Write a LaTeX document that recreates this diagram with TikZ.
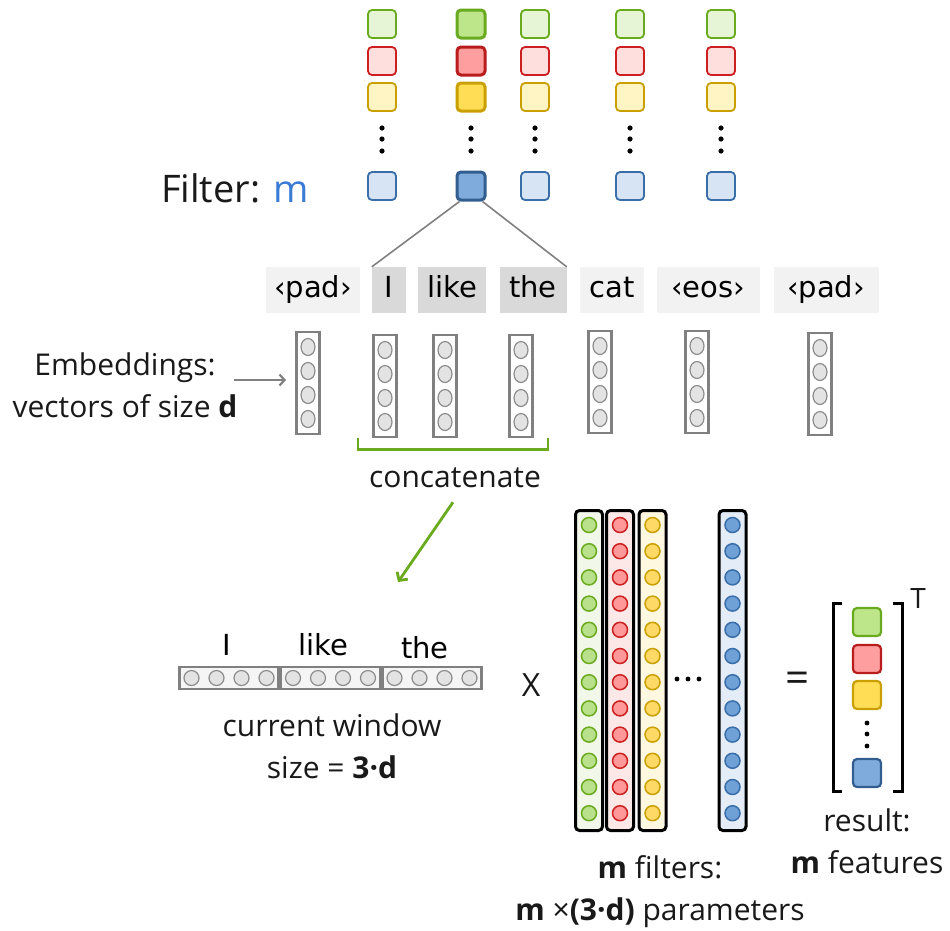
\documentclass[tikz,border=0pt]{standalone}
\usepackage{fontspec}
\setmainfont{Open Sans}
\newfontfamily\tokfont{DejaVu Sans}
\usetikzlibrary{arrows.meta,positioning}

\definecolor{grnline}{HTML}{6AAA1E}
\definecolor{grnfill}{HTML}{E6F5D6}
\definecolor{grnhi}{HTML}{BDE58A}
\definecolor{redline}{HTML}{CC1F1F}
\definecolor{redfill}{HTML}{FFDEDE}
\definecolor{redhi}{HTML}{FF9E9E}
\definecolor{yelline}{HTML}{C9A000}
\definecolor{yelfill}{HTML}{FFF4C4}
\definecolor{yelhi}{HTML}{FFDD55}
\definecolor{bluline}{HTML}{3A6EA8}
\definecolor{blufill}{HTML}{D6E4F4}
\definecolor{bluhi}{HTML}{7EAADC}
\definecolor{mblue}{HTML}{3A7BD5}
\definecolor{tokbg}{HTML}{F2F2F2}
\definecolor{tokhi}{HTML}{D9D9D9}
\definecolor{vecline}{HTML}{808080}
\definecolor{cellline}{HTML}{8C8C8C}
\definecolor{cellfill}{HTML}{E3E3E3}
\definecolor{winfill}{HTML}{F5F5F5}
\definecolor{fgbg}{HTML}{F1F8E9}
\definecolor{frbg}{HTML}{FDE8E8}
\definecolor{fybg}{HTML}{FFF8E1}
\definecolor{fbbg}{HTML}{E3ECF7}
\definecolor{grncell}{HTML}{B9E08A}
\definecolor{redcell}{HTML}{FF9999}
\definecolor{yelcell}{HTML}{FFD966}
\definecolor{blucell}{HTML}{6FA0D6}

\begin{document}
\begin{tikzpicture}[x=1pt, y=-1pt,
  txt/.style={font=\fontsize{30}{42}\selectfont, inner sep=0pt, align=center, text=black!90},
  tok/.style={font=\tokfont\fontsize{29}{30}\selectfont, text height=21pt, text depth=6pt,
    inner ysep=9.5pt, inner xsep=0pt, minimum height=46pt},
  tokplain/.style={font=\tokfont\fontsize{29}{30}\selectfont, inner sep=0pt},
  fsq/.style={draw, rounded corners=4pt, minimum size=28pt, inner sep=0pt, line width=1.8pt},
  fsqhi/.style={fsq, line width=3pt},
  vecbox/.style={draw=vecline, line width=2.8pt, minimum width=23pt, minimum height=102pt,
    inner sep=0pt, fill=white},
  winseg/.style={draw=vecline, line width=2.8pt, minimum width=99pt, minimum height=22pt,
    inner sep=0pt, fill=winfill},
  cell/.style={draw=cellline, fill=cellfill, line width=1.2pt},
  fcol/.style={draw=black, line width=3pt, rounded corners=4pt, minimum width=27pt,
    minimum height=320pt, inner sep=0pt},
  linkline/.style={vecline, line width=1.6pt},
  garrow/.style={-{Straight Barb[length=6pt,width=13pt]}, grnline, line width=2.8pt},
  embarrow/.style={-{Straight Barb[length=5pt,width=11pt]}, vecline, line width=2.2pt},
]
\useasboundingbox (0,0) rectangle (950,930);

% filters on top
\node[txt, font=\fontsize{38}{44}\selectfont] (filterlab) at (235,188) {Filter: \textcolor{mblue}{m}};
\foreach \x/\n in {382/1,535/3,630/4,721/5} {
  \node[fsq, draw=grnline, fill=grnfill] (g\n) at (\x,24) {};
  \node[fsq, draw=redline, fill=redfill] (r\n) at (\x,61) {};
  \node[fsq, draw=yelline, fill=yelfill] (y\n) at (\x,97) {};
  \node[fsq, draw=bluline, fill=blufill] (b\n) at (\x,186) {};
}
\node[fsqhi, draw=grnline, fill=grnhi] (g2) at (471,24) {};
\node[fsqhi, draw=redline!90!black, fill=redhi] (r2) at (471,61) {};
\node[fsqhi, draw=yelline, fill=yelhi] (y2) at (471,97) {};
\node[fsqhi, draw=bluline!85!black, fill=bluhi] (b2) at (471,186) {};
\foreach \x in {382,471,535,630,721}
  \foreach \y in {128,139,151}
    \fill (\x,\y) circle[radius=2.6pt];

% tokens
\foreach \x/\w/\t/\n/\c in {313/94/‹pad›/tpad1/tokbg, 389/34/I/tokI/tokhi, 452/68/like/tlike/tokhi,
    533/67/the/tthe/tokhi, 612/64/cat/tcat/tokbg, 708/103/‹eos›/teos/tokbg, 826/105/‹pad›/tpad2/tokbg}
  \node[tok, fill=\c, minimum width=\w pt] (\n) at (\x,290) {\t};

\draw[linkline] ([xshift=4pt]b2.south west) -- (tokI.north west);
\draw[linkline] ([xshift=-4pt]b2.south east) -- (tthe.north east);

% embeddings
\foreach \x/\y [count=\i] in {308/383, 385/386, 445/386, 521/386, 600/382, 697/382, 820/384} {
  \node[vecbox] (emb\i) at (\x,\y) {};
  \foreach \d in {-36,-12,12,36}
    \draw[cell] (\x,\y+\d) circle[x radius=7pt, y radius=8.5pt];
}
\node[txt] (emblab) at (125,385) {Embeddings:\\vectors of size \textbf{d}};
\coordinate (embtip) at (286,380);
\draw[embarrow] ([xshift=-4pt]emblab.east |- embtip) -- (embtip);

% concatenate
\draw[grnline, line width=2.5pt] ([xshift=-14pt]emb2.south west) -- ++(0,11) -| ([xshift=14pt]emb4.south east);
\node[txt] (concat) at (455,478) {concatenate};
\coordinate (wintip) at (398,582);
\draw[garrow] ([xshift=-2pt,yshift=-14pt]concat.south) -- (wintip);

% current window
\foreach \x/\t [count=\i] in {229/I,330.5/like,432/the} {
  \node[winseg] (win\i) at (\x,678) {};
  \foreach \d in {-37.5,-12.5,12.5,37.5}
    \draw[cell] (\x+\d,678) circle[radius=7.5pt];
}
\node[tokplain] (wI) at (227,645) {I};
\node[tokplain] (wlike) at (323,645) {like};
\node[tokplain] (wthe) at (425,648) {the};
\node[txt] (winlab) at (332,746) {current window\\size = \textbf{3·d}};

\node[txt, font=\fontsize{32}{34}\selectfont] (times) at (531,685) {X};

% filter matrix
\foreach \x/\fc/\cl/\cf [count=\i] in {589/fgbg/grnline/grncell, 620/frbg/redline/redcell,
    652.5/fybg/yelline/yelcell, 732.5/fbbg/bluline/blucell} {
  \node[fcol, fill=\fc] (fcol\i) at (\x,670.5) {};
  \foreach \k in {0,...,11}
    \draw[draw=\cl, fill=\cf, line width=1.5pt] (\x,525+26.2*\k) circle[radius=7.5pt];
}
\foreach \x in {677,688,699}
  \fill (\x,679) circle[radius=2.4pt];
\node[txt] (flab) at (660,892) {\textbf{m} filters:\\\textbf{m} ×\textbf{(3·d)} parameters};

% result
\node[txt, font=\fontsize{42}{44}\selectfont] (eq) at (797,682) {=};
\draw[line width=3pt] (842,603) -- (833,603) -- (833,791) -- (842,791);
\draw[line width=3pt] (893,603) -- (902,603) -- (902,791) -- (893,791);
\node[txt, font=\fontsize{28}{30}\selectfont] (tr) at (918,598) {T};
\node[fsqhi, line width=2.2pt, draw=grnline, fill=grnhi] (res1) at (867,622) {};
\node[fsqhi, line width=2.2pt, draw=redline!90!black, fill=redhi] (res2) at (867,659) {};
\node[fsqhi, line width=2.2pt, draw=yelline, fill=yelhi] (res3) at (867,695) {};
\node[fsqhi, line width=2.2pt, draw=bluline!85!black, fill=bluhi] (res4) at (867,773) {};
\foreach \y in {723,734,746}
  \fill (867,\y) circle[radius=2.4pt];
\node[txt] (reslab) at (867,841) {result:\\\textbf{m} features};

\end{tikzpicture}
\end{document}
